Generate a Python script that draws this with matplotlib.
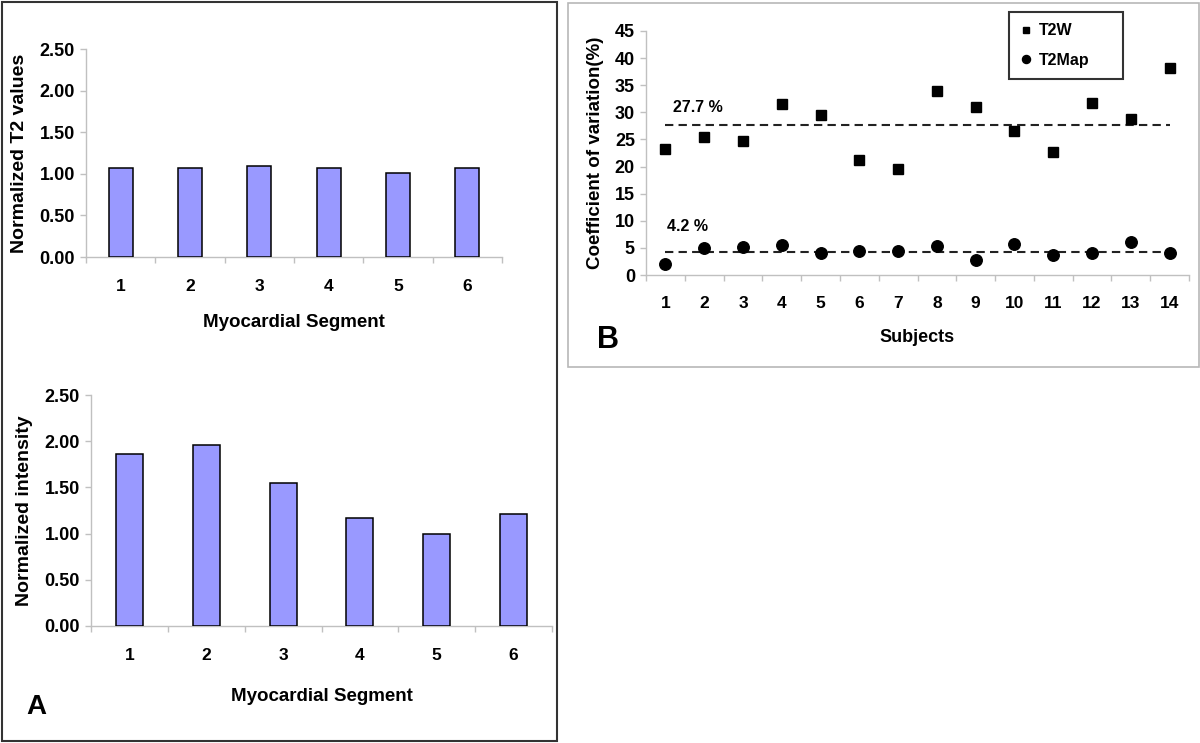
import numpy as np
import matplotlib.pyplot as plt
from matplotlib.patches import Rectangle
from matplotlib.ticker import FormatStrFormatter

plt.rcParams['font.family'] = ['Liberation Sans', 'DejaVu Sans']
plt.rcParams['font.weight'] = 'bold'
plt.rcParams['axes.labelweight'] = 'bold'

# panel A data
segments = ['1', '2', '3', '4', '5', '6']
t2_values = [1.07, 1.07, 1.09, 1.07, 1.01, 1.07]
intensity = [1.86, 1.96, 1.55, 1.17, 1.00, 1.21]

# panel B data
subjects = list(range(1, 15))
cv_t2w = [23.2, 25.5, 24.7, 31.6, 29.6, 21.2, 19.5, 34.0, 31.0, 26.6, 22.6, 31.8, 28.8, 38.2]
cv_t2map = [2.0, 4.9, 5.2, 5.5, 4.1, 4.4, 4.4, 5.3, 2.7, 5.7, 3.6, 4.1, 6.0, 4.1]
mean_t2w = 27.7
mean_t2map = 4.2

W, H = 1200, 743
GRAY = '#c0c0c0'
BAR = '#9999ff'


def box(x0, y0, x1, y1):
    # pixel box (top-left origin) -> figure fraction
    return [x0 / W, 1 - y1 / H, (x1 - x0) / W, (y1 - y0) / H]


def style_axes(ax, ylab_size=13, xlab_size=12.5, xpad=16):
    for s in ['top', 'right']:
        ax.spines[s].set_visible(False)
    for s in ['left', 'bottom']:
        ax.spines[s].set_color(GRAY)
        ax.spines[s].set_linewidth(1)
    ax.tick_params(axis='y', color=GRAY, labelcolor='black', length=4, width=1,
                   labelsize=ylab_size, pad=4)
    ax.tick_params(axis='x', which='major', length=0, labelsize=xlab_size, pad=xpad)
    ax.tick_params(axis='x', which='minor', length=4, width=1, color=GRAY)


fig = plt.figure(figsize=(12, 7.43), dpi=100)


def bar_panel(rect, values, ylabel, xlabelpad):
    ax = fig.add_axes(box(*rect))
    x = np.arange(len(segments))
    ax.bar(x, values, width=0.35, color=BAR, edgecolor='black', linewidth=1.1, zorder=3)
    ax.set_xlim(-0.5, len(segments) - 0.5)
    ax.set_ylim(0, 2.5)
    ax.set_yticks(np.arange(0, 2.51, 0.5))
    ax.yaxis.set_major_formatter(FormatStrFormatter('%.2f'))
    ax.set_xticks(x, segments)
    ax.set_xticks(np.arange(-0.5, len(segments)), minor=True)
    ax.set_xlabel('Myocardial Segment', fontsize=13.5, labelpad=xlabelpad)
    ax.set_ylabel(ylabel, fontsize=14, labelpad=8)
    style_axes(ax)
    return ax


bar_panel((86, 49, 502, 257), t2_values, 'Normalized T2 values', 14)
bar_panel((91, 395, 552, 626), intensity, 'Normalized intensity', 18)

# panel B
axb = fig.add_axes(box(646, 31, 1189, 275))
axb.plot(subjects, cv_t2w, 's', color='black', ms=7, label='T2W', zorder=3)
axb.plot(subjects, cv_t2map, 'o', color='black', ms=8.3, label='T2Map', zorder=3)
for m in [mean_t2w, mean_t2map]:
    axb.plot([subjects[0], subjects[-1]], [m, m], ls='--', dashes=(4, 2.5),
             color='#222222', lw=1.5, zorder=2)
axb.text(1.2, mean_t2w + 1.8, f'{mean_t2w} %', fontsize=11.5, va='bottom')
axb.text(1.05, mean_t2map + 3.3, f'{mean_t2map} %', fontsize=11.5, va='bottom')

axb.set_xlim(0.5, len(subjects) + 0.5)
axb.set_ylim(0, 45)
axb.set_yticks(np.arange(0, 46, 5))
axb.set_xticks(subjects, [str(s) for s in subjects])
axb.set_xticks(np.arange(0.5, len(subjects) + 1), minor=True)
axb.set_xlabel('Subjects', fontsize=13, labelpad=13)
axb.set_ylabel('Coefficient of variation(%)', fontsize=13.5, labelpad=8)
style_axes(axb, ylab_size=13, xlab_size=12.5, xpad=15)

leg = axb.legend(loc='upper left', bbox_to_anchor=(0.668, 0.811, 0.21, 0.267),
                 mode='expand', frameon=True, fancybox=False, edgecolor='#333333',
                 framealpha=1, fontsize=11.5, markerscale=0.7, handlelength=0.8,
                 handletextpad=0.4, borderpad=0.7, labelspacing=0.9, borderaxespad=0)
leg.get_frame().set_linewidth(1.5)

# panel frames and letters
fig.add_artist(Rectangle((2 / W, 1 - 741 / H), 555 / W, 739 / H, transform=fig.transFigure,
                         fill=False, edgecolor='#333333', lw=1.5))
fig.add_artist(Rectangle((568 / W, 1 - 367 / H), 631 / W, 364 / H, transform=fig.transFigure,
                         fill=False, edgecolor='#b8b8b8', lw=1.2))
fig.text(36 / W, 1 - 707 / H, 'A', fontsize=20, ha='center', va='center')
fig.text(608 / W, 1 - 340 / H, 'B', fontsize=22, ha='center', va='center')

fig.savefig('out.png', dpi=100)
